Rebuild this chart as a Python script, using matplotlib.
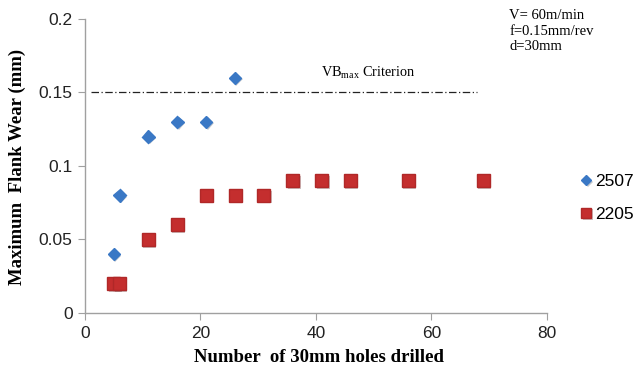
import matplotlib
matplotlib.use("Agg")
import matplotlib.pyplot as plt
import matplotlib.patheffects as pe

x_2507 = [5, 6, 11, 16, 21, 26]
y_2507 = [0.04, 0.08, 0.12, 0.13, 0.13, 0.16]
x_2205 = [5, 6, 11, 16, 21, 26, 31, 36, 41, 46, 56, 69]
y_2205 = [0.02, 0.02, 0.05, 0.06, 0.08, 0.08, 0.08, 0.09, 0.09, 0.09, 0.09, 0.09]
criterion = 0.15
crit_x = [1, 68]
xticks = [0, 20, 40, 60, 80]
yticks = [0, 0.05, 0.1, 0.15, 0.2]
ytick_labels = ["0", "0.05", "0.1", "0.15", "0.2"]

fig = plt.figure(figsize=(6.44, 3.70), dpi=100)
ax = fig.add_axes([0.132, 0.154, 0.717, 0.795])

shadow = [pe.SimplePatchShadow(offset=(1.0, -1.2), alpha=0.25), pe.Normal()]
ax.plot(crit_x, [criterion, criterion], color="#222222", lw=0.9, linestyle=(0, (6, 2, 1, 2)))
l1, = ax.plot(x_2507, y_2507, linestyle="none", marker="D", markersize=6.3,
              color="#3a78c5", markeredgecolor="#3a78c5", label="2507")
l2, = ax.plot(x_2205, y_2205, linestyle="none", marker="s", markersize=9.3,
              color="#c42e2e", markeredgecolor="#b02828", label="2205")
l1.set_path_effects(shadow)
l2.set_path_effects(shadow)

ax.set_xlim(0, 80)
ax.set_ylim(0, 0.2)
ax.set_xticks(xticks)
ax.set_yticks(yticks)
ax.set_yticklabels(ytick_labels)
for s in ["top", "right"]:
    ax.spines[s].set_visible(False)
for s in ["left", "bottom"]:
    ax.spines[s].set_color("#a0a0a0")
    ax.spines[s].set_linewidth(1.0)
ax.tick_params(direction="out", color="#a0a0a0", length=5, labelsize=12.5,
               labelcolor="#222222", pad=4)
for lab in ax.get_xticklabels() + ax.get_yticklabels():
    lab.set_family("Liberation Sans")

ax.set_xlabel("Number  of 30mm holes drilled", family="Liberation Serif",
              fontweight="bold", fontsize=13.5)
ax.xaxis.set_label_coords(0.506, -0.122)
ax.set_ylabel("Maximum  Flank Wear (mm)", family="Liberation Serif",
              fontweight="bold", fontsize=13.5)
ax.yaxis.set_label_coords(-0.128, 0.497)

ax.text(49, 0.1575, r"VB$_{\mathregular{max}}$ Criterion", family="Liberation Serif",
        fontsize=10.3, ha="center", va="bottom")
ax.text(73.5, 0.2065, "V= 60m/min\nf=0.15mm/rev\nd=30mm", family="Liberation Serif",
        fontsize=10.5, ha="left", va="top", linespacing=1.25, clip_on=False)

leg = fig.legend(handles=[l1, l2], loc="center left", bbox_to_anchor=(0.874, 0.465),
                 frameon=False, handletextpad=0.05, labelspacing=1.0, handlelength=0.9,
                 prop={"family": "Liberation Sans", "size": 12.5}, markerscale=0.8)

fig.savefig("out.png", dpi=100)
